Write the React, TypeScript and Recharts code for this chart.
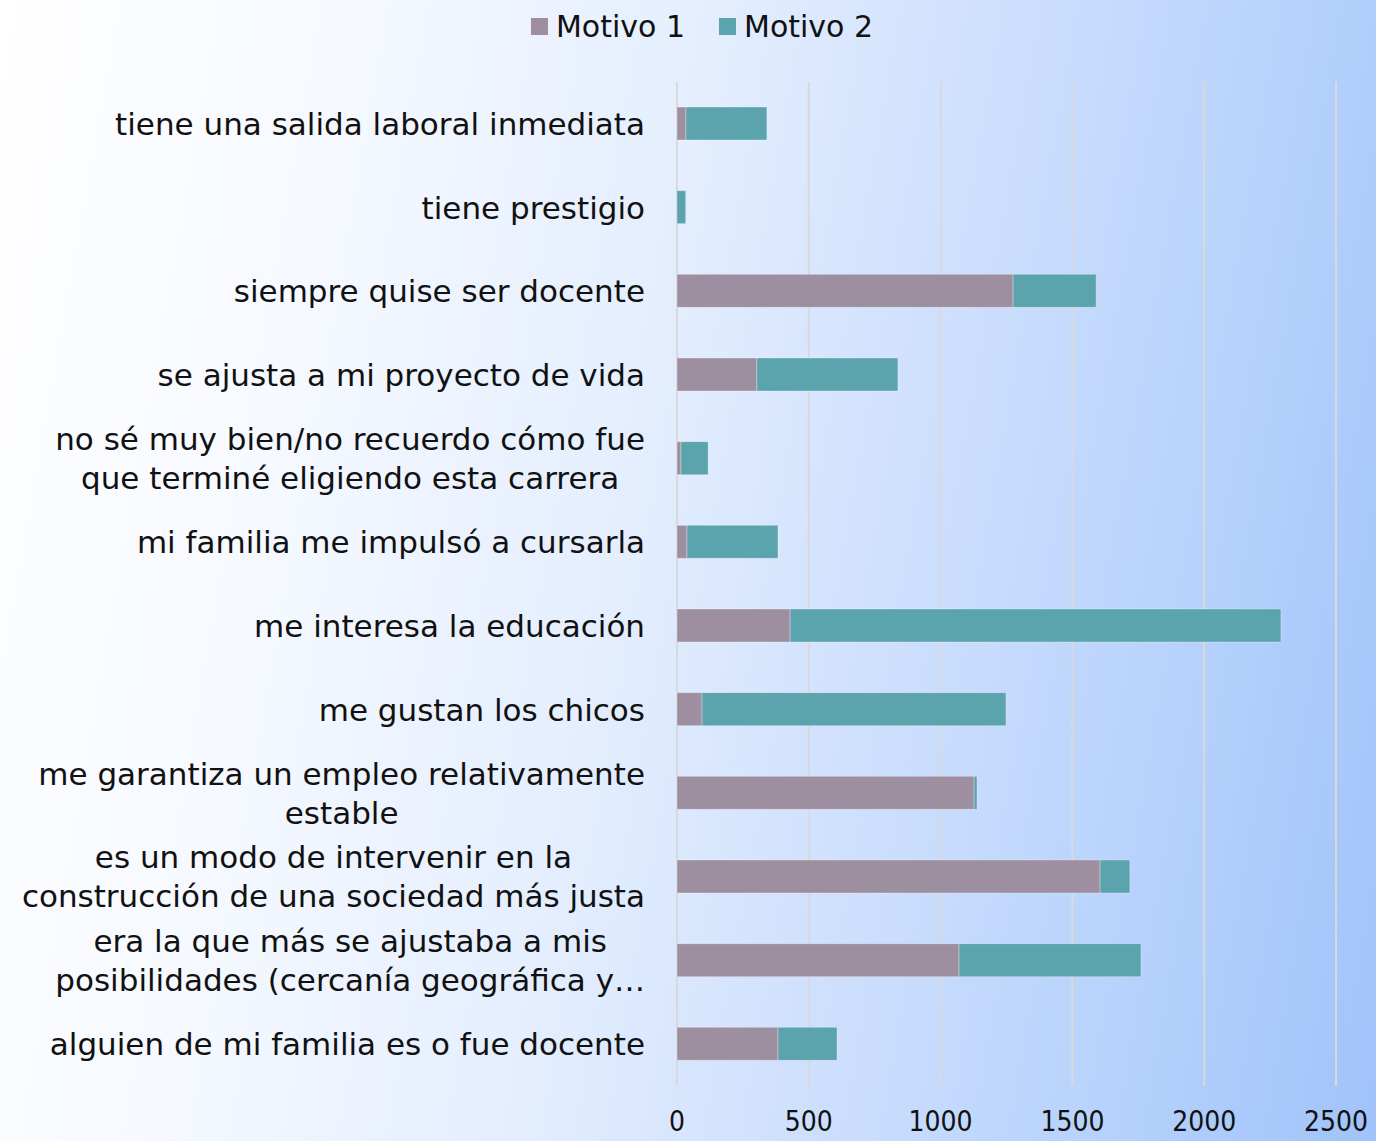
import { BarChart, Bar, XAxis, YAxis, CartesianGrid } from "recharts";

const categories = [
  "tiene una salida laboral inmediata",
  "tiene prestigio",
  "siempre quise ser docente",
  "se ajusta a mi proyecto de vida",
  "no sé muy bien/no recuerdo cómo fue\nque terminé eligiendo esta carrera",
  "mi familia me impulsó a cursarla",
  "me interesa la educación",
  "me gustan los chicos",
  "me garantiza un empleo relativamente\nestable",
  "es un modo de intervenir en la\nconstrucción de una sociedad más justa",
  "era la que más se ajustaba a mis\nposibilidades (cercanía geográfica y…",
  "alguien de mi familia es o fue docente",
];

const motivo1 = [34, 0, 1275, 303, 15, 38, 429, 95, 1127, 1605, 1070, 383];
const motivo2 = [307, 33, 315, 535, 103, 345, 1862, 1153, 11, 113, 690, 224];

const xTicks = [0, 500, 1000, 1500, 2000, 2500];

const COLOR_1 = "#9e8fa0";
const COLOR_2 = "#5ba3ad";
const FONT = "'DejaVu Sans', sans-serif";
const LABEL_SIZE = 31;
const LINE_H = 39;

const data = categories.map((name, i) => ({
  name,
  m1: motivo1[i],
  m2: motivo2[i],
}));

let ctx: CanvasRenderingContext2D | null = null;
function measure(text: string) {
  if (!ctx) ctx = document.createElement("canvas").getContext("2d");
  if (!ctx) return text.length * LABEL_SIZE * 0.55;
  ctx.font = `${LABEL_SIZE}px 'DejaVu Sans'`;
  return ctx.measureText(text).width;
}

// Excel-style category label: block right aligned, lines centred inside it
function CategoryTick(props: any) {
  const { x, y, payload } = props;
  const lines: string[] = String(payload.value).split("\n");
  const blockW = Math.max(...lines.map(measure));
  const cx = x - blockW / 2;
  const y0 = y - ((lines.length - 1) * LINE_H) / 2;
  return (
    <text fontFamily={FONT} fontSize={LABEL_SIZE} fill="#111" textAnchor="middle">
      {lines.map((l, i) => (
        <tspan key={i} x={cx} y={y0 + i * LINE_H} dy="0.36em">
          {l}
        </tspan>
      ))}
    </text>
  );
}

// narrow digits, like the original's Century Gothic numbers
function ValueTick(props: any) {
  const { x, y, payload } = props;
  const s = String(payload.value);
  return (
    <text
      x={x}
      y={y}
      textAnchor="middle"
      fontFamily={FONT}
      fontSize={28}
      fill="#111"
      textLength={s.length * 16}
      lengthAdjust="spacingAndGlyphs"
    >
      {s}
    </text>
  );
}

function LegendBox() {
  const items = [
    { label: "Motivo 1", color: COLOR_1 },
    { label: "Motivo 2", color: COLOR_2 },
  ];
  return (
    <div
      style={{
        position: "absolute",
        top: 9,
        left: 0,
        width: 1376,
        display: "flex",
        justifyContent: "center",
        gap: 34,
        paddingLeft: 28,
        boxSizing: "border-box",
        fontFamily: FONT,
        fontSize: 30,
        color: "#111",
      }}
    >
      {items.map((it) => (
        <div key={it.label} style={{ display: "flex", alignItems: "center", gap: 8 }}>
          <span style={{ width: 17, height: 17, background: it.color, display: "inline-block" }} />
          <span>{it.label}</span>
        </div>
      ))}
    </div>
  );
}

export default function App() {
  return (
    <div
      style={{
        position: "absolute",
        left: 0,
        top: 0,
        width: 1376,
        height: 1141,
        overflow: "hidden",
        background:
          "linear-gradient(100deg, #ffffff 0%, #f6f9ff 22%, #e4eefe 45%, #cfe0fd 63%, #b7d2fc 82%, #a0c3fa 100%)",
      }}
    >
      <BarChart
        width={1376}
        height={1141}
        data={data}
        layout="vertical"
        margin={{ top: 82, right: 40, bottom: 0, left: 0 }}
        barSize={33}
      >
        <CartesianGrid horizontal={false} stroke="#d9d9d9" strokeWidth={2} />
        <XAxis
          type="number"
          domain={[0, 2500]}
          ticks={xTicks}
          axisLine={false}
          tickLine={false}
          tickSize={0}
          tickMargin={45}
          height={55}
          interval={0}
          tick={<ValueTick />}
        />
        <YAxis
          type="category"
          dataKey="name"
          width={677}
          axisLine={false}
          tickLine={false}
          tickSize={0}
          tickMargin={32}
          interval={0}
          tick={<CategoryTick />}
        />
        <Bar
          dataKey="m1"
          name="Motivo 1"
          stackId="a"
          fill={COLOR_1}
          stroke="rgba(255,255,255,0.3)"
          strokeWidth={1}
          isAnimationActive={false}
        />
        <Bar
          dataKey="m2"
          name="Motivo 2"
          stackId="a"
          fill={COLOR_2}
          stroke="rgba(255,255,255,0.3)"
          strokeWidth={1}
          isAnimationActive={false}
        />
      </BarChart>
      <LegendBox />
    </div>
  );
}
